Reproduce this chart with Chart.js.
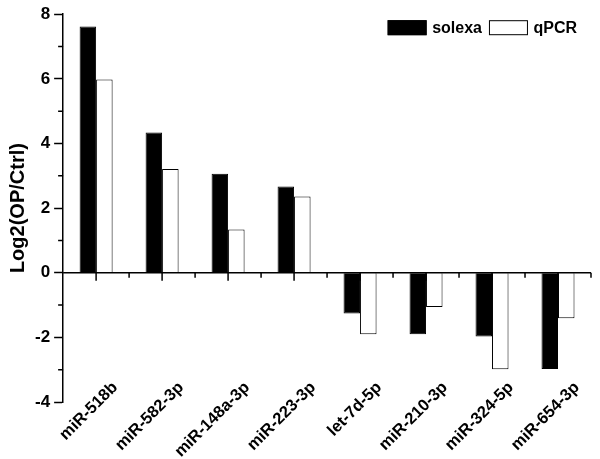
<!DOCTYPE html>
<html>
<head>
<meta charset="utf-8">
<script src="https://cdn.jsdelivr.net/npm/chart.js@4.4.0/dist/chart.umd.min.js"></script>
<style>
  body { margin: 0; background: #fff; }
  #wrap { width: 600px; height: 459px; }
</style>
</head>
<body>
<div id="wrap"><canvas id="myChart" width="600" height="459"></canvas></div>
<script>
var categories = ["miR-518b", "miR-582-3p", "miR-148a-3p", "miR-223-3p", "let-7d-5p", "miR-210-3p", "miR-324-5p", "miR-654-3p"];
var solexaValues = [7.62, 4.34, 3.06, 2.67, -1.26, -1.9, -1.97, -2.98];
var qpcrValues = [5.98, 3.21, 1.34, 2.36, -1.9, -1.06, -2.99, -1.41];
var yTickLabels = ["-4", "-2", "0", "2", "4", "6", "8"];

var FONT = "'Liberation Sans', Arial, sans-serif";

// zero line with its tick marks, plus short minor ticks on the y axis
var axisExtras = {
    id: "axisExtras",
    afterDraw: function (chart) {
        var ctx = chart.ctx;
        var x = chart.scales.x;
        var y = chart.scales.y;
        var area = chart.chartArea;
        var y0 = y.getPixelForValue(0);
        ctx.save();
        ctx.strokeStyle = "#000";
        ctx.lineWidth = 1.5;
        ctx.beginPath();
        ctx.moveTo(area.left, y0);
        ctx.lineTo(area.right, y0);
        for (var i = 0; i < categories.length; i++) {
            var c = x.getPixelForValue(i);
            ctx.moveTo(c, y0);
            ctx.lineTo(c, y0 + 8);
            var b = i < categories.length - 1 ? (c + x.getPixelForValue(i + 1)) / 2 : area.right;
            ctx.moveTo(b, y0);
            ctx.lineTo(b, y0 + 5);
        }
        for (var v = -3; v <= 7; v += 2) {
            var p = y.getPixelForValue(v);
            ctx.moveTo(area.left - 5, p);
            ctx.lineTo(area.left, p);
        }
        ctx.stroke();
        ctx.restore();
    }
};

// legend in the top right corner of the plot, one row
var cornerLegend = {
    id: "cornerLegend",
    afterDraw: function (chart) {
        var ctx = chart.ctx;
        var area = chart.chartArea;
        var sets = chart.data.datasets;
        ctx.save();
        ctx.font = "bold 16px " + FONT;
        ctx.textBaseline = "middle";
        ctx.textAlign = "left";
        var boxW = 39, boxH = 15, gap = 5.5, itemGap = 7;
        var total = 0;
        for (var i = 0; i < sets.length; i++) {
            total += boxW + gap + ctx.measureText(sets[i].label).width + (i > 0 ? itemGap : 0);
        }
        var cx = area.right - 14 - total;
        var top = area.top + 6;
        for (var j = 0; j < sets.length; j++) {
            ctx.fillStyle = sets[j].backgroundColor;
            ctx.fillRect(cx, top, boxW, boxH);
            ctx.strokeStyle = "#000";
            ctx.lineWidth = 1;
            ctx.strokeRect(cx + 0.5, top + 0.5, boxW - 1, boxH - 1);
            cx += boxW + gap;
            ctx.fillStyle = "#000";
            ctx.fillText(sets[j].label, cx, top + boxH / 2 + 1);
            cx += ctx.measureText(sets[j].label).width + itemGap;
        }
        ctx.restore();
    }
};

new Chart("myChart", {
    type: "bar",
    data: {
        labels: categories,
        datasets: [{
                label: "solexa",
                data: solexaValues,
                backgroundColor: "#000",
                borderColor: "#000",
                borderWidth: 1
            }, {
                label: "qPCR",
                data: qpcrValues,
                backgroundColor: "#fff",
                borderColor: "#000",
                borderWidth: 1
            }]
    },
    options: {
        responsive: false,
        animation: false,
        layout: { padding: { left: 2, top: 12, right: 9, bottom: 0 } },
        datasets: { bar: { categoryPercentage: 0.5, barPercentage: 1 } },
        plugins: {
            legend: { display: false },
            tooltip: { enabled: false }
        },
        scales: {
            x: {
                grid: { display: false, drawTicks: false },
                border: { display: false },
                ticks: {
                    color: "#000",
                    minRotation: 45,
                    maxRotation: 45,
                    mirror: true,
                    labelOffset: 33,
                    padding: 10,
                    font: { family: FONT, size: 16.5, weight: "bold" }
                },
                afterFit: function (scale) { scale.height = 57; }
            },
            y: {
                min: -4,
                max: 8,
                grid: {
                    drawOnChartArea: false,
                    tickLength: 9,
                    tickWidth: 1.5,
                    tickColor: function (c) { return c.tick && c.tick.value % 2 === 0 ? "#000" : "rgba(0,0,0,0)"; }
                },
                border: { color: "#000", width: 1.5 },
                ticks: {
                    stepSize: 2,
                    padding: 4,
                    color: "#000",
                    font: { family: FONT, size: 17, weight: "bold" },
                    callback: function (v) { return yTickLabels.indexOf(String(v)) >= 0 ? String(v) : ""; }
                },
                title: {
                    display: true,
                    text: "Log2(OP/Ctrl)",
                    color: "#000",
                    padding: { top: 4, bottom: 1 },
                    font: { family: FONT, size: 20, weight: "bold" }
                }
            }
        }
    },
    plugins: [axisExtras, cornerLegend]
});
</script>
</body>
</html>
